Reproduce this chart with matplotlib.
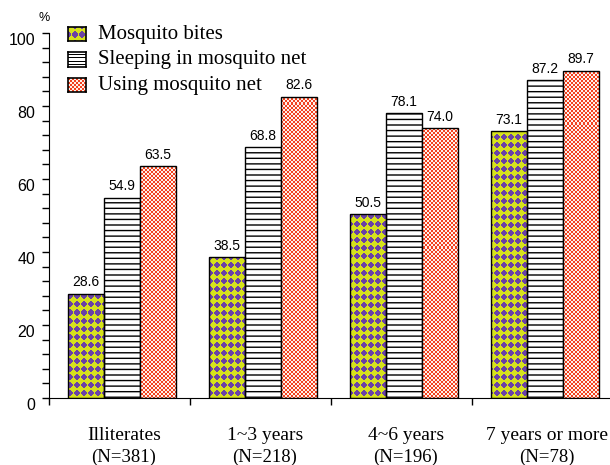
import numpy as np
import matplotlib
matplotlib.use('Agg')
import matplotlib.pyplot as plt
from matplotlib.colors import to_rgb
from matplotlib.ticker import MultipleLocator

# Education groups and the three survey items (%)
groups = ['Illiterates', '1~3 years', '4~6 years', '7 years or more']
sizes = ['(N=381)', '(N=218)', '(N=196)', '(N=78)']
series = ['Mosquito bites', 'Sleeping in mosquito net', 'Using mosquito net']
bites = [28.6, 38.5, 50.5, 73.1]
sleeping = [54.9, 68.8, 78.1, 87.2]
using = [63.5, 82.6, 74.0, 89.7]

PURPLE = '#6a42a6'
YELLOW = '#d6e21c'
RED = '#f2421f'
PALE = '#fff0ea'

plt.rcParams['font.family'] = ['Liberation Sans', 'DejaVu Sans']
SERIF = ['Liberation Serif', 'DejaVu Serif']


# Pixel textures used to fill the bars
def diamonds(h, w):
    yy, xx = np.mgrid[0:h, 0:w] + 0.5
    dx = np.abs((xx % 7) - 3.5) / 3.5
    dy = np.abs((yy % 8) - 4.0) / 4.0
    mask = dx + dy < 1.1
    return np.where(mask[..., None], to_rgb(YELLOW), to_rgb(PURPLE))


def checks(h, w):
    yy, xx = np.mgrid[0:h, 0:w]
    mask = ((xx // 2) + (yy // 2)) % 2 == 0
    return np.where(mask[..., None], to_rgb(RED), to_rgb(PALE))


def stripes(h, w, step=3):
    yy, xx = np.mgrid[0:h, 0:w]
    mask = yy % step == 0
    return np.where(mask[..., None], (0, 0, 0), (1, 1, 1)).astype(float)


W, H = 610, 465
left, right, top, bottom = 49, 613, 33, 398
fig = plt.figure(figsize=(W / 100, H / 100), dpi=100)
ax = fig.add_axes([left / W, 1 - bottom / H, (right - left) / W, (bottom - top) / H])

x = np.arange(len(groups))
off, bw = 0.135, 0.255
ph, pw = bottom - top, right - left
fills = [diamonds(ph, pw), None, checks(ph, pw)]

for k, (vals, fill) in enumerate(zip([bites, sleeping, using], fills)):
    pos = x + off + k * bw
    if fill is None:
        ax.bar(pos, vals, bw, align='edge', facecolor='white', edgecolor='black',
               hatch='---', linewidth=1, zorder=2)
    else:
        bars = ax.bar(pos, vals, bw, align='edge', facecolor='none',
                      edgecolor='black', linewidth=1, zorder=3)
        for b in bars:
            im = ax.imshow(fill, extent=(0, 4, 0, 100), aspect='auto',
                           interpolation='nearest', zorder=2)
            im.set_clip_path(b)
    for p, v in zip(pos, vals):
        ax.annotate(f'{v:.1f}', (p + bw / 2, v), xytext=(0, 3),
                    textcoords='offset points', ha='center', va='bottom',
                    fontsize=10)

ax.set_xlim(0, 4)
ax.set_ylim(0, 100)
ax.spines['top'].set_visible(False)
ax.spines['right'].set_visible(False)
ax.yaxis.set_major_locator(MultipleLocator(20))
ax.yaxis.set_minor_locator(MultipleLocator(4))
ax.set_xticks(x)
ax.set_xticklabels([])
ax.tick_params(axis='both', which='both', direction='out', length=5, width=1)
ax.tick_params(axis='y', labelsize=11.5, pad=5)
for lab in ax.get_yticklabels():
    lab.set_va('top')

# Group labels under the axis
trans = ax.get_xaxis_transform()
for i, (g, n) in enumerate(zip(groups, sizes)):
    ax.text(i + 0.53, (bottom - 435) / ph, g, transform=trans, ha='center',
            va='center', fontsize=14, family=SERIF)
    ax.text(i + 0.53, (bottom - 457) / ph, n, transform=trans, ha='center',
            va='center', fontsize=13.5, family=SERIF)

fig.text(44 / W, 1 - 18 / H, '%', ha='center', va='center', fontsize=9)

# Legend drawn with the same textures
legend_fills = [diamonds, stripes, checks]
for k, (name, make) in enumerate(zip(series, legend_fills)):
    ty = 27 + k * 25.5
    lax = fig.add_axes([68 / W, 1 - (ty + 14) / H, 18 / W, 14 / H])
    lax.imshow(make(14, 18), aspect='auto', interpolation='nearest')
    lax.set_xticks([])
    lax.set_yticks([])
    for s in lax.spines.values():
        s.set_linewidth(1.2)
    fig.text(98 / W, 1 - (ty + 7) / H, name, ha='left', va='center',
             fontsize=15, family=SERIF)

fig.savefig('out.png', dpi=100)
